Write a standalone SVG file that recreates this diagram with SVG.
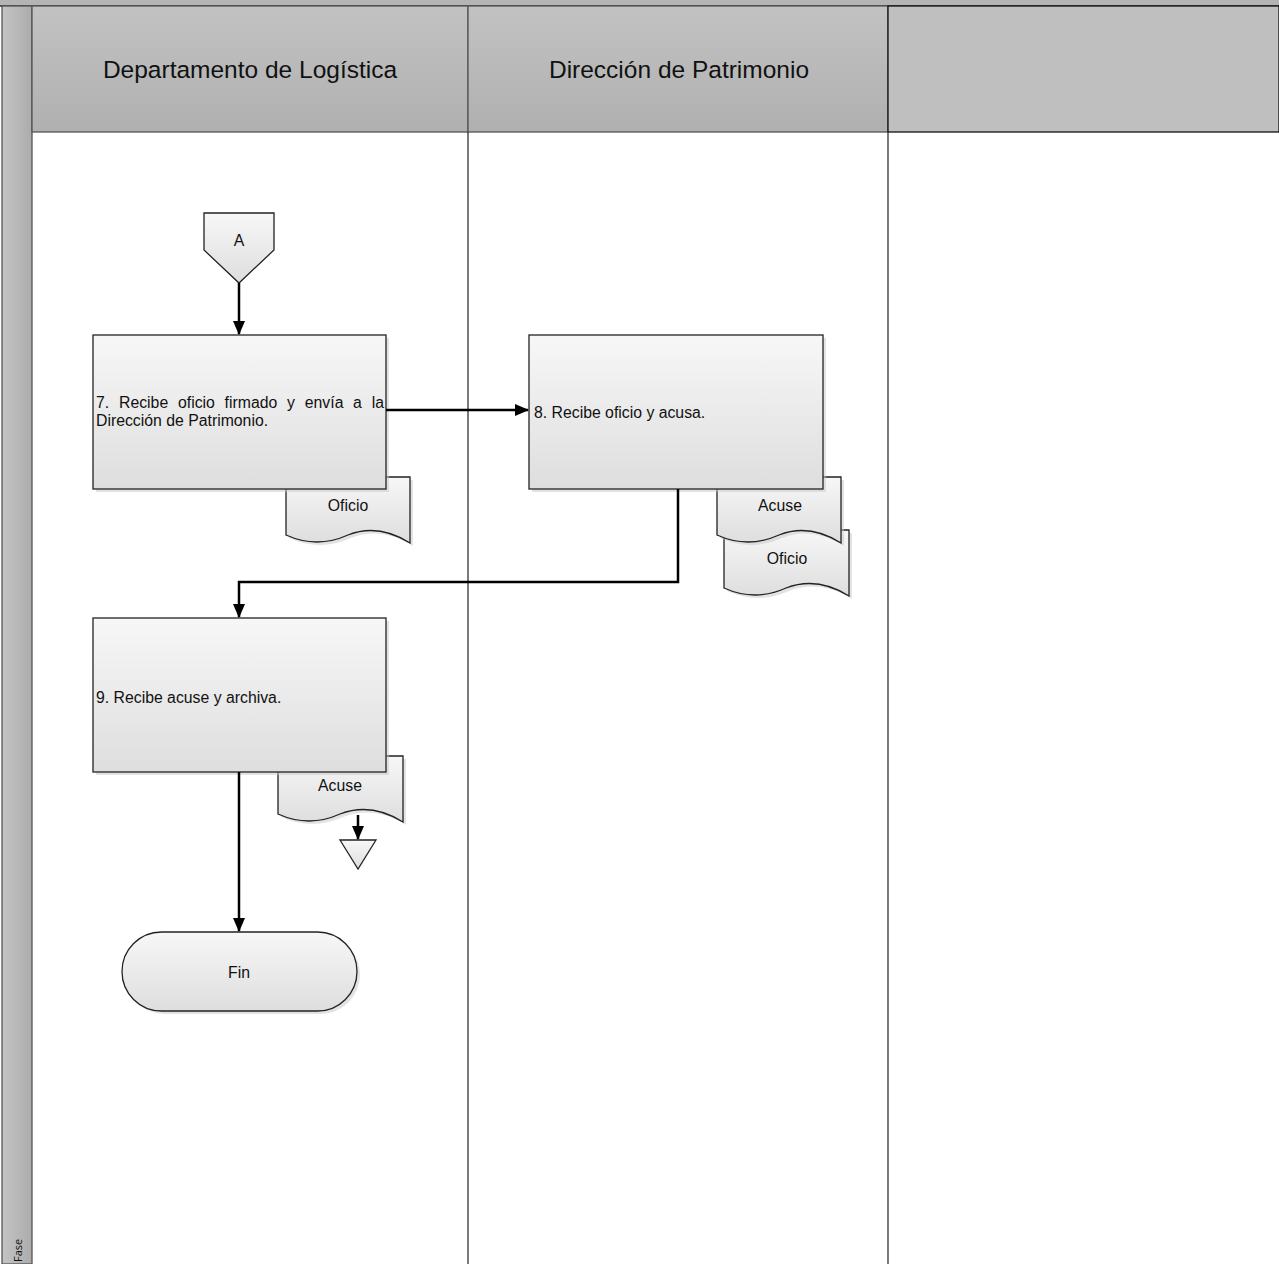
<svg xmlns="http://www.w3.org/2000/svg" width="1279" height="1264" viewBox="0 0 1279 1264">
<style>
.hdr{font-family:"Liberation Sans",Arial,sans-serif;font-size:24.5px;fill:#111;text-anchor:middle}
.t{font-family:"Liberation Sans",Arial,sans-serif;font-size:15.8px;fill:#111}
.c{text-anchor:middle}
.shape{fill:url(#g);stroke:#222;stroke-width:1.3}
.sh{fill:#c8c8c8;opacity:0.5}
.conn{fill:none;stroke:#000;stroke-width:2.5}
.lane{stroke:#333;stroke-width:1.3;fill:none}
</style>
<defs>
<linearGradient id="g" x1="0" y1="0" x2="0" y2="1"><stop offset="0" stop-color="#f7f7f7"/><stop offset="1" stop-color="#dedede"/></linearGradient>
<linearGradient id="hg" x1="0" y1="0" x2="0" y2="1"><stop offset="0" stop-color="#c2c2c2"/><stop offset="1" stop-color="#b0b0b0"/></linearGradient>
<linearGradient id="sg" x1="0" y1="0" x2="1" y2="0"><stop offset="0" stop-color="#c4c4c4"/><stop offset="1" stop-color="#acacac"/></linearGradient>
<marker id="ah" markerWidth="14" markerHeight="12" refX="13" refY="6" orient="auto" markerUnits="userSpaceOnUse" viewBox="0 0 14 12"><path d="M0,0 L14,6 L0,12 z" fill="#000"/></marker>
</defs>
<rect width="1279" height="1264" fill="#fff"/>
<g id="pool">
<rect x="0" y="0" width="1279" height="6" fill="#b4b4b4"/>
<line x1="0" y1="6" x2="1279" y2="6" class="lane" stroke-width="2"/>
<rect x="2" y="6" width="30" height="1258" fill="url(#sg)" stroke="#555" stroke-width="1.3"/>
<text x="0" y="0" transform="translate(22,1262) rotate(-90)" font-family="Open Sans,sans-serif" font-size="11" fill="#111">Fase</text>
<rect x="32" y="6" width="436" height="126" fill="url(#hg)" stroke="#555" stroke-width="1.3"/>
<rect x="468" y="6" width="420" height="126" fill="url(#hg)" stroke="#555" stroke-width="1.3"/>
<rect x="888" y="6" width="391" height="126" fill="#bfbfbf" stroke="#111" stroke-width="1.3"/>
<line x1="468" y1="132" x2="468" y2="1264" class="lane"/>
<line x1="888" y1="132" x2="888" y2="1264" class="lane" stroke="#111"/>
<text class="hdr" x="250" y="78">Departamento de Logística</text>
<text class="hdr" x="679" y="78">Dirección de Patrimonio</text>
</g>
<g id="nodeA">
<path d="M204,213 H274 V250 L239,283 L204,250 Z" class="shape"/>
<text class="t c" x="239" y="246">A</text>
</g>
<g id="doc7">
<path d="M289,480 H413 V546 Q381,526 351,538 Q320,552 289,538 Z" class="sh"/>
<path d="M286,477 H410 V543 Q378,523 348,535 Q317,549 286,535 Z" class="shape"/>
<text class="t c" x="348" y="511">Oficio</text>
</g>
<g id="step7">
<rect x="96" y="338" width="293" height="154" class="sh"/>
<rect x="93" y="335" width="293" height="154" class="shape"/>
<text class="t" y="408"><tspan x="96">7.</tspan><tspan x="119">Recibe</tspan><tspan x="178">oficio</tspan><tspan x="224.6">firmado</tspan><tspan x="287.1">y</tspan><tspan x="304.8">envía</tspan><tspan x="353.1">a</tspan><tspan x="371.7">la</tspan></text>
<text class="t" x="96" y="426">Dirección de Patrimonio.</text>
</g>
<g id="doc8b">
<path d="M727,533 H852 V599 Q820,579 789,591 Q758,605 727,591 Z" class="sh"/>
<path d="M724,530 H849 V596 Q817,576 786,588 Q755,602 724,588 Z" class="shape"/>
<text class="t c" x="787" y="564">Oficio</text>
</g>
<g id="doc8a">
<path d="M720,480 H844 V546 Q812,526 782,538 Q751,552 720,538 Z" class="sh"/>
<path d="M717,477 H841 V543 Q809,523 779,535 Q748,549 717,535 Z" class="shape"/>
<text class="t c" x="780" y="511">Acuse</text>
</g>
<g id="step8">
<rect x="532" y="338" width="294" height="154" class="sh"/>
<rect x="529" y="335" width="294" height="154" class="shape"/>
<text class="t" x="534" y="418">8. Recibe oficio y acusa.</text>
</g>
<g id="doc9">
<path d="M281,759 H406 V825 Q374,805 343,817 Q312,831 281,817 Z" class="sh"/>
<path d="M278,756 H403 V822 Q371,802 340,814 Q309,828 278,814 Z" class="shape"/>
<text class="t c" x="340" y="791">Acuse</text>
</g>
<g id="step9">
<rect x="96" y="621" width="293" height="154" class="sh"/>
<rect x="93" y="618" width="293" height="154" class="shape"/>
<text class="t" x="96" y="703">9. Recibe acuse y archiva.</text>
</g>
<g id="archive">
<path d="M340,840 H376 L358,869 Z" class="shape"/>
</g>
<g id="fin">
<rect x="125" y="935" width="235" height="79" rx="39.5" class="sh"/>
<rect x="122" y="932" width="235" height="79" rx="39.5" class="shape"/>
<text class="t c" x="239" y="978">Fin</text>
</g>
<g id="connectors">
<path d="M239,283 V334" class="conn" marker-end="url(#ah)"/>
<path d="M386,410 H528" class="conn" marker-end="url(#ah)"/>
<path d="M678,489 V582 H239 V617" class="conn" marker-end="url(#ah)"/>
<path d="M358,815 V839" class="conn" marker-end="url(#ah)"/>
<path d="M239,772 V931" class="conn" marker-end="url(#ah)"/>
</g>
</svg>
